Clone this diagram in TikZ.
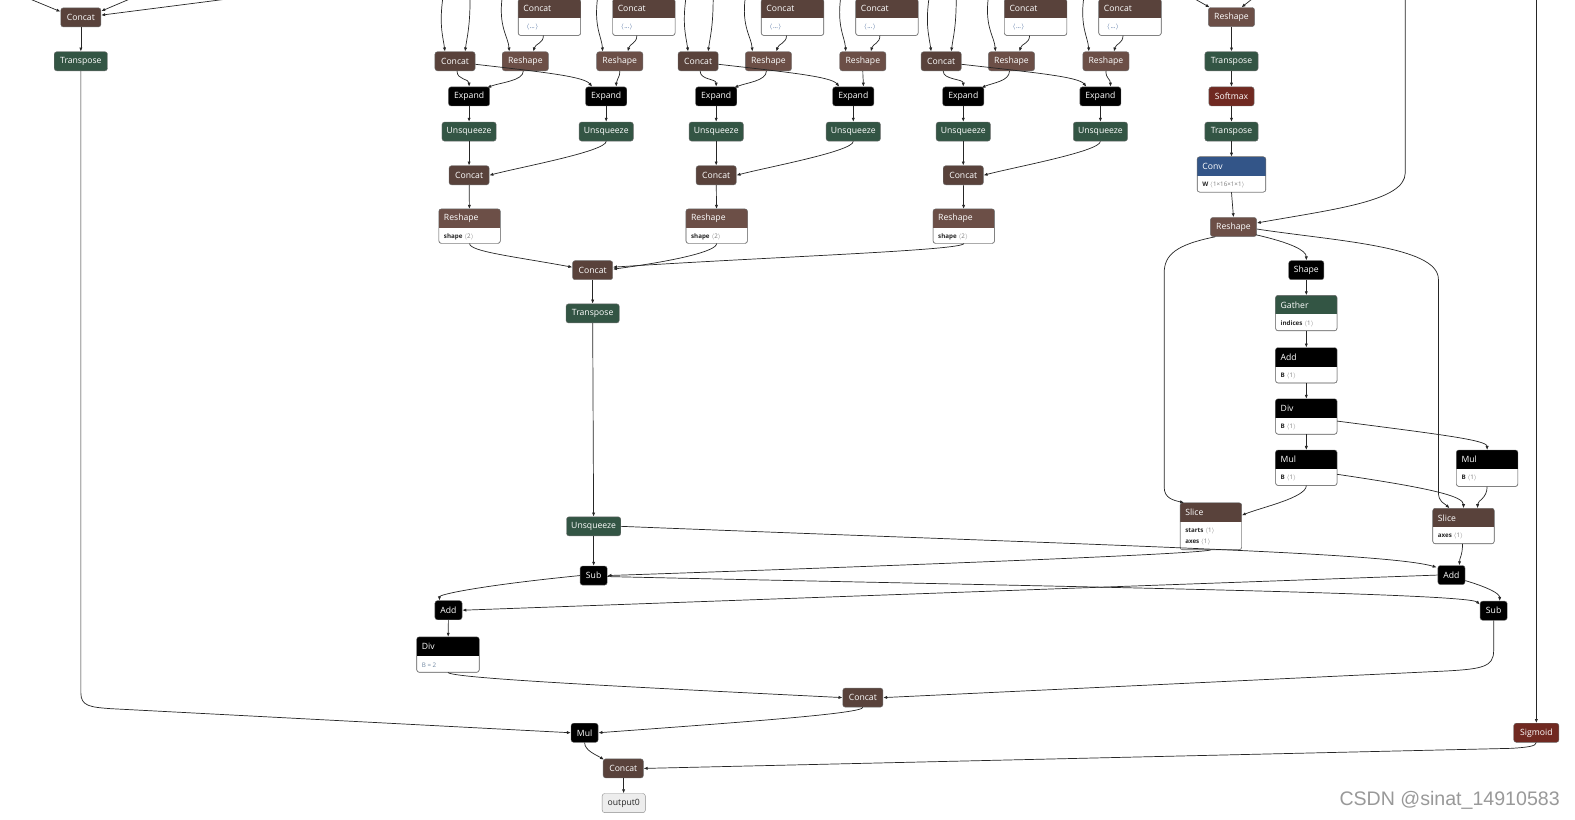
\documentclass[tikz,border=0pt]{standalone}
\usepackage{fontspec}
\setmainfont{Open Sans}
\newfontfamily\wmfont{Liberation Sans}
\usetikzlibrary{arrows.meta}
\definecolor{tensorc}{HTML}{59423B}
\definecolor{shapec}{HTML}{6C4F47}
\definecolor{transc}{HTML}{335544}
\definecolor{actc}{HTML}{702921}
\definecolor{layerc}{HTML}{335588}
\definecolor{edgec}{HTML}{262626}
\definecolor{bordc}{HTML}{707070}
\definecolor{valc}{HTML}{7A7A7A}
\definecolor{dotc}{HTML}{2F5590}
\definecolor{bvalc}{HTML}{7088A2}
\newcommand\hfont{\fontsize{8.6}{9.5}\selectfont}
\newcommand\afont{\fontsize{6.2}{7}\selectfont}
\newcommand\attname[1]{\textcolor{black!85}{\bfseries #1}}
\newcommand\attval[1]{\textcolor{valc}{$\langle$#1$\rangle$}}
\tikzset{
 op/.style={rounded corners=2.5pt, draw=bordc, line width=0.4pt, text=white, font=\hfont, minimum height=19pt, inner sep=0pt},
 concat/.style={op, fill=tensorc, minimum width=40pt},
 reshape/.style={op, fill=shapec, minimum width=46pt},
 transp/.style={op, fill=transc, minimum width=53pt},
 unsq/.style={op, fill=transc, minimum width=54pt},
 expand/.style={op, fill=black, minimum width=41pt},
 blk/.style={op, fill=black, minimum width=27pt},
 shp/.style={op, fill=black, minimum width=35pt},
 act/.style={op, fill=actc, minimum width=45pt},
 outn/.style={op, fill=black!7, draw=black!45, text=black!85, minimum width=43pt},
 edge/.style={draw=edgec, line width=0.7pt, -{Latex[length=4pt,width=3.2pt]}},
}
% attribute node: name, cx, top, width, height, colour, title, body
\newcommand\nnode[8]{%
 \node[draw=bordc, line width=0.4pt, fill=white, rounded corners=2.5pt, minimum width=#4pt, minimum height=#5pt, inner sep=0pt, anchor=north] (#1) at ({#2},{#3}) {};
 \begin{scope}
  \clip[rounded corners=2.5pt] (#1.north west) rectangle (#1.south east);
  \fill[#6] (#1.north west) rectangle ([yshift=-19pt]#1.north east);
 \end{scope}
 \draw[bordc, line width=0.4pt, rounded corners=2.5pt] (#1.north west) rectangle (#1.south east);
 \node[anchor=west, text=white, font=\hfont, inner sep=0pt] at ([xshift=5pt,yshift=-9.5pt]#1.north west) {#7};
 \node[anchor=west, font=\afont, inner sep=0pt] at ([xshift=5pt,yshift=-28pt]#1.north west) {#8};
}
% group: prefix, top dx, bottom dx
\newcommand\ngroup[3]{%
 \node[concat] (#1ca) at ({453+#2},61) {Concat};
 \node[reshape] (#1ra) at ({523+#2},61) {Reshape};
 \node[reshape] (#1rb) at ({617+#2},61) {Reshape};
 \nnode{#1qa}{547+#2}{-1}{62}{36}{tensorc}{Concat}{\hspace{3pt}\textcolor{dotc}{$\langle$\kern0.5pt…\kern0.5pt$\rangle$}}
 \nnode{#1qb}{641+#2}{-1}{62}{36}{tensorc}{Concat}{\hspace{3pt}\textcolor{dotc}{$\langle$\kern0.5pt…\kern0.5pt$\rangle$}}
 \node[expand] (#1ea) at ({467+#3},96) {Expand};
 \node[expand] (#1eb) at ({603.5+#3},96) {Expand};
 \node[unsq] (#1ua) at ({467+#3},131) {Unsqueeze};
 \node[unsq] (#1ub) at ({603.5+#3},131) {Unsqueeze};
 \node[concat] (#1cc) at ({467+#3},174.5) {Concat};
 \nnode{#1rd}{467.5+#3}{208}{61}{34}{shapec}{Reshape}{\attname{shape} \attval{2}}
 \coordinate (#1ta) at ({441+#2},-3);
 \coordinate (#1tb) at ({468+#2},-3);
 \coordinate (#1tc) at ({500+#2},-3);
 \coordinate (#1td) at ({595+#2},-3);
 \draw[edge] (#1ta) .. controls +(-4,28) and +(-2,-15) .. ([xshift=-10pt]#1ca.north);
 \draw[edge] (#1tb) .. controls +(0,30) and +(2,-15) .. ([xshift=10pt]#1ca.north);
 \draw[edge] (#1tc) .. controls +(-4,30) and +(-1,-15) .. ([xshift=-16pt]#1ra.north);
 \draw[edge] ([xshift=-6pt]#1qa.south) .. controls +(0,8) and +(2,-8) .. ([xshift=8pt]#1ra.north);
 \draw[edge] (#1td) .. controls +(-4,30) and +(-1,-15) .. ([xshift=-17pt]#1rb.north);
 \draw[edge] ([xshift=-7pt]#1qb.south) .. controls +(0,8) and +(2,-8) .. ([xshift=8pt]#1rb.north);
 \draw[edge] ([xshift=2pt]#1ca.south) .. controls +(0,9) and +(0,-8) .. (#1ea.north);
 \draw[edge] ([xshift=-2pt]#1ra.south) .. controls +(0,10) and +(12,-5) .. ([xshift=18pt,yshift=-1pt]#1ea.north);
 \draw[edge] ([yshift=-3pt]#1ca.east) .. controls +(70,8) and +(-8,-10) .. ([xshift=-14pt]#1eb.north);
 \draw[edge] (#1rb.south) .. controls +(0,8) and +(0,-8) .. ([xshift=10pt]#1eb.north);
 \draw[edge] (#1ea) -- (#1ua);
 \draw[edge] (#1eb) -- (#1ub);
 \draw[edge] (#1ua) -- (#1cc);
 \draw[edge] (#1ub.south) .. controls +(0,10) and +(30,-8) .. (#1cc.east);
 \draw[edge] (#1cc) -- (#1rd);
}
\begin{document}
\begin{tikzpicture}[x=1pt, y=-1pt]
\path[use as bounding box] (0,0) rectangle (1568,816);
\clip (0,0) rectangle (1568,816);
\fill[white] (0,0) rectangle (1568,816);

% top left
\node[concat] (ctl) at (80.5,17.3) {Concat};
\node[transp] (ttl) at (80.5,61) {Transpose};
\coordinate (lin1) at (25,-3);
\coordinate (lin2) at (134,-3);
\coordinate (lin3) at (242,-3);
\draw[edge] (lin1) -- ([yshift=-4pt]ctl.north west);
\draw[edge] (lin2) -- ([yshift=-3.5pt]ctl.north east);
\draw[edge] (lin3) -- ([yshift=-7.5pt]ctl.north east);
\draw[edge] (ctl) -- (ttl);

% three groups
\ngroup{ga}{0}{0}
\ngroup{gb}{242}{246}
\ngroup{gc}{484}{492}

% middle
\node[concat] (cm) at (590,269) {Concat};
\node[transp] (tm) at (590,312) {Transpose};
\node[unsq] (um) at (591,524) {Unsqueeze};
\node[blk] (subm) at (591,573) {Sub};
\node[blk] (addl) at (446.5,607.5) {Add};
\nnode{divl}{446}{634}{62}{35}{black}{Div}{\textcolor{bvalc}{B = 2}}
\node[concat] (cb) at (859,694.5) {Concat};
\node[blk] (mul) at (582,729.5) {Mul};
\node[concat] (cf) at (620.5,765) {Concat};
\node[outn] (out) at (621,799.5) {output0};

\draw[edge] (gard.south) .. controls +(0,8) and +(-60,-11) .. ([yshift=3pt]cm.west);
\draw[edge] (gbrd.south) .. controls +(0,8) and +(60,-8) .. ([yshift=1pt]cm.east);
\draw[edge] (gcrd.south) .. controls +(0,7) and +(150,-10) .. ([yshift=3pt]cm.east);
\draw[edge] (cm) -- (tm);
\draw[edge] (tm) -- (um);
\draw[edge] (um) -- (subm);

% right column
\node[reshape] (rt) at (1226,17) {Reshape};
\node[transp] (rtr1) at (1226,61) {Transpose};
\node[act] (rsm) at (1226,96) {Softmax};
\node[transp] (rtr2) at (1226,131) {Transpose};
\nnode{conv}{1226}{156}{68}{35}{layerc}{Conv}{\attname{W} \attval{1×16×1×1}}
\node[reshape] (rs2) at (1228,226) {Reshape};
\node[shp] (shape) at (1300.5,269) {Shape};
\nnode{gath}{1300.5}{294}{61}{35}{transc}{Gather}{\attname{indices} \attval{1}}
\nnode{addr1}{1300.5}{346}{61}{35}{black}{Add}{\attname{B} \attval{1}}
\nnode{divr}{1300.5}{397}{61}{35}{black}{Div}{\attname{B} \attval{1}}
\nnode{mulr1}{1300.5}{448}{61}{35}{black}{Mul}{\attname{B} \attval{1}}
\nnode{mulr2}{1480.5}{448}{61}{36}{black}{Mul}{\attname{B} \attval{1}}
\nnode{slil}{1205.5}{500.5}{61}{46.5}{tensorc}{Slice}{\attname{starts} \attval{1}}
\node[anchor=west, font=\afont, inner sep=0pt] (slilb) at ([xshift=5pt,yshift=-39.5pt]slil.north west) {\attname{axes} \attval{1}};
\nnode{slir}{1457}{506}{61}{35}{tensorc}{Slice}{\attname{axes} \attval{1}}
\node[blk] (addr) at (1445,572.5) {Add};
\node[blk] (subr) at (1487,608) {Sub};
\node[act] (sig) at (1529.5,729.5) {Sigmoid};

\coordinate (rin1) at (1186,-3);
\coordinate (rin2) at (1249,-3);
\coordinate (rlong) at (1399,-3);
\coordinate (rsig) at (1529.5,-3);
\draw[edge] (rin1) -- ([xshift=1.5pt]rt.north west);
\draw[edge] (rin2) -- ([xshift=10pt]rt.north);
\draw[edge] (rt) -- (rtr1);
\draw[edge] (rtr1) -- (rsm);
\draw[edge] (rsm) -- (rtr2);
\draw[edge] (rtr2) -- (conv);
\draw[edge] (conv.south) -- (rs2.north);
\draw[edge] (rlong) -- (1399,172) .. controls (1399,200) and (1330,208) .. ([yshift=4pt]rs2.east);
\draw[edge] ([xshift=-18pt]rs2.south) .. controls +(-40,8) and +(0,-18) .. (1159,272) -- (1159,485) .. controls (1159,496) and (1168,498) .. ([xshift=4pt]slil.north west);
\draw[edge] ([xshift=-1pt,yshift=2pt]rs2.south east) .. controls +(35,8) and +(0,-10) .. (shape.north);
\draw[edge] ([yshift=-2pt]rs2.east) .. controls (1330,240) and (1432,245) .. (1432,278) -- (1432,490) .. controls (1432,500) and (1438,501) .. ([xshift=-14pt]slir.north);
\draw[edge] (shape) -- (gath);
\draw[edge] (gath) -- (addr1);
\draw[edge] (addr1) -- (divr);
\draw[edge] (divr) -- (mulr1);
\draw[edge] ([yshift=-4.5pt]divr.east) .. controls +(100,13) and +(0,-10) .. (mulr2.north);
\draw[edge] (mulr1.south) .. controls +(0,12) and +(20,-8) .. ([yshift=-12.5pt]slil.north east);
\draw[edge] ([yshift=-6.5pt]mulr1.east) .. controls +(95,14) and +(0,-12) .. (slir.north);
\draw[edge] (mulr2.south) .. controls +(0,12) and +(0,-8) .. ([xshift=14pt]slir.north);
\draw[edge] ([xshift=-1pt]slir.south) .. controls +(0,12) and +(0,-8) .. ([xshift=8pt]addr.north);
\draw[edge] (rsig) -- (sig.north);

% bottom connections
\draw[edge] (um.east) .. controls (1100,543) and (1380,550) .. ([xshift=-1pt,yshift=-2pt]addr.north west);
\draw[edge] (slil.south) .. controls +(-10,5) and +(150,-5) .. (subm.east);
\draw[edge] (subm.west) .. controls +(-100,10) and +(0,-6) .. ([xshift=-9pt]addl.north);
\draw[edge] ([yshift=-1pt]subm.east) .. controls (1000,583) and (1460,590) .. ([yshift=-3.5pt]subr.north west);
\draw[edge] (addr.west) -- (addl.east);
\draw[edge] ([yshift=-5.5pt]addr.east) .. controls +(20,6) and +(0,-8) .. ([xshift=6pt]subr.north);
\draw[edge] (addl) -- (divl);
\draw[edge] (divl.south) .. controls +(2,6) and +(-200,-10) .. (cb.west);
\draw[edge] (subr.south) -- (1487,648) .. controls (1487,664) and (1475,666) .. (1440,668) -- (cb.east);
\draw[edge] (cb.south) .. controls +(0,6) and +(150,-11) .. (mul.east);
\draw[edge] (ttl.south) -- (80.5,690) .. controls (80.5,703) and (90,704) .. (110,705.5) -- (mul.west);
\draw[edge] (mul.south) .. controls +(0,8) and +(-8,-5) .. ([xshift=1pt,yshift=-1pt]cf.north west);
\draw[edge] (sig.south) .. controls (1529.5,743) and (1520,744) .. (1505,745) -- (cf.east);
\draw[edge] (cf) -- (out);

\node[font=\wmfont\fontsize{19.5}{20}\selectfont, text=black!40, anchor=east, inner sep=0pt] (wm) at (1553,797) {CSDN @sinat\_14910583};
\end{tikzpicture}
\end{document}
